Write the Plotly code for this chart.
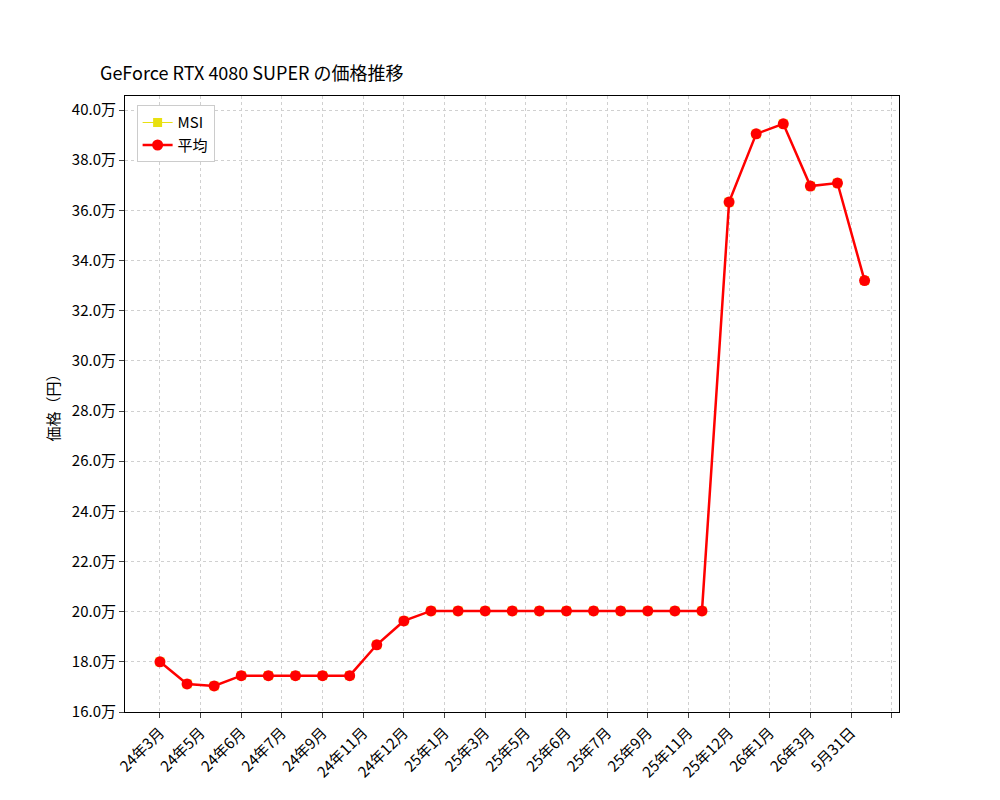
import plotly.graph_objects as go

# データ（万円）
idx = list(range(27))
avg = [18.0, 17.12, 17.04, 17.45, 17.45, 17.45, 17.45, 17.45, 18.68, 19.63,
       20.03, 20.03, 20.03, 20.03, 20.03, 20.03, 20.03, 20.03, 20.03, 20.03, 20.03,
       36.33, 39.05, 39.45, 36.97, 37.09, 33.2]
msi = list(avg)
tick_labels = ["24年3月", "24年5月", "24年6月", "24年7月", "24年9月", "24年11月",
               "24年12月", "25年1月", "25年3月", "25年5月", "25年6月", "25年7月",
               "25年9月", "25年11月", "25年12月", "26年1月", "26年3月", "5月31日", ""]
tick_pos = [i * 1.5 for i in range(len(tick_labels))]
y_ticks = [16 + 2 * i for i in range(13)]

font = "Noto Sans CJK JP"
fig = go.Figure()
fig.add_trace(go.Scatter(x=idx, y=msi, name="MSI", mode="lines+markers",
                         line=dict(color="#e8e010", width=1),
                         marker=dict(symbol="square", size=9, color="#e8e010")))
fig.add_trace(go.Scatter(x=idx, y=avg, name="平均", mode="lines+markers",
                         line=dict(color="red", width=2.5),
                         marker=dict(symbol="circle", size=11, color="red")))

fig.update_layout(
    width=1000, height=800, plot_bgcolor="white", paper_bgcolor="white",
    font=dict(family=font, size=15, color="black"),
    margin=dict(l=117, r=109, t=88, b=96),
    title=dict(text="GeForce RTX 4080 SUPER の価格推移", x=0.092, xanchor="left",
               y=0.918, yanchor="middle", font=dict(size=18)),
    legend=dict(x=0.015, y=0.985, xanchor="left", yanchor="top",
                bordercolor="#cccccc", borderwidth=1, bgcolor="white",
                font=dict(size=15)),
    showlegend=True,
)
fig.update_xaxes(range=[-1.29, 27.27], tickvals=tick_pos, ticktext=tick_labels,
                 tickangle=-45, ticks="outside", ticklen=5, showline=True,
                 linecolor="black", mirror=True, showgrid=True,
                 gridcolor="#d0d0d0", griddash="dot", gridwidth=0.8, zeroline=False)
fig.update_yaxes(range=[16, 40.56], tickvals=y_ticks,
                 ticktext=[f"{v:.1f}万" for v in y_ticks], ticks="outside", ticklen=5,
                 showline=True, linecolor="black", mirror=True, showgrid=True,
                 gridcolor="#d0d0d0", griddash="dot", gridwidth=0.8, zeroline=False,
                 title=dict(text="価格（円）", standoff=8, font=dict(size=15)))
fig.write_html("out.html")
